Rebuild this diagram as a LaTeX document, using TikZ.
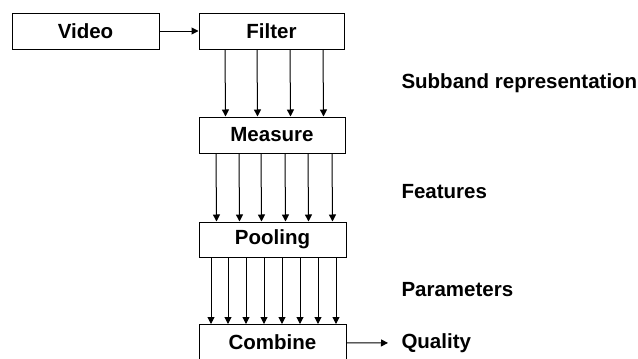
\documentclass[tikz,border=0pt]{standalone}
\usepackage{fontspec}
\setmainfont{Liberation Sans}
\usetikzlibrary{arrows.meta}
\begin{document}
\begin{tikzpicture}[x=1pt, y=-1pt, line width=1pt, >={Triangle[length=7pt,width=7pt]},
  every node/.style={font=\fontsize{20.5}{23}\selectfont\bfseries},
  block/.style={draw, minimum height=36pt, inner sep=0pt},
  lab/.style={anchor=west, inner sep=0pt}]
\useasboundingbox (0,0) rectangle (638,359);
\clip (0,0) rectangle (638,359);
\node[block, minimum width=147pt] (video) at (85.5,31) {Video};
\node[block, minimum width=145pt] (filter) at (271.5,31) {Filter};
\node[block, minimum width=146pt] (measure) at (272,135) {Measure};
\node[block, minimum width=147pt, minimum height=35pt] (pooling) at (272.5,239.5) {Pooling};
\node[block, minimum width=147pt] (combine) at (272.5,342.5) {Combine};
\node[lab] (subband) at (401,83) {Subband representation};
\node[lab] (features) at (401,192) {Features};
\node[lab] (params) at (401,290) {Parameters};
\node[lab] (quality) at (401,343) {Quality};
\draw[->] (video) -- (filter);
\draw[->, shorten >=13pt] (combine) -- (quality.west);
\foreach \d in {-46.5,-14.5,18.5,51.5}
  {\draw[->] ([xshift=\d pt]filter.south) -- ([xshift=\d pt]measure.north);}
\foreach \d in {-56,-33,-11,13,36,60}
  {\draw[->] ([xshift=\d pt]measure.south) -- ([xshift=\d pt]pooling.north);}
\foreach \d in {-61.5,-44.5,-26.5,-8.5,9.5,27.5,45.5,63.5}
  {\draw[->] ([xshift=\d pt]pooling.south) -- ([xshift=\d pt]combine.north);}
\end{tikzpicture}
\end{document}
